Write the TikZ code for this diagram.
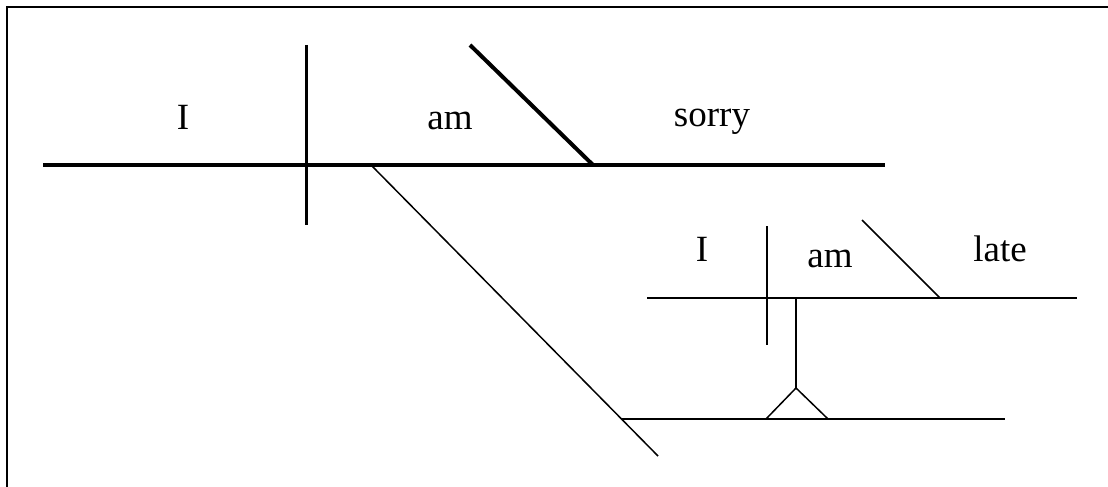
\documentclass[tikz,border=0pt]{standalone}
\usepackage{fontspec}
\setmainfont{Liberation Serif}

\begin{document}
\begin{tikzpicture}[
    x=1pt, y=-1pt,
    word/.style={inner sep=0pt, anchor=base, font=\fontsize{37}{40}\selectfont},
    heavy/.style={line width=4pt},
    divider/.style={line width=3pt},
    light/.style={line width=1.5pt},
    frame/.style={line width=2pt},
  ]
    \useasboundingbox (0,0) rectangle (1108,487);

    % Frame
    \coordinate (fcorner) at (7,7.5);
    \coordinate (ftop) at (1108,7.5);
    \coordinate (fbottom) at (7,487);
    \draw[frame] (ftop) -- (fcorner) -- (fbottom);

    % Main clause
    \coordinate (mainL) at (43,165);
    \coordinate (mainR) at (885,165);
    \coordinate (subjT) at (306,45);
    \coordinate (subjB) at (306,225);
    \coordinate (compT) at (470,45);
    \coordinate (compB) at (593,165);
    \draw[heavy] (mainL) -- (mainR);
    \draw[divider] (subjT) -- (subjB);
    \draw[heavy] (compT) -- (compB);
    \node[word] (mainsubj) at (183,129) {I};
    \node[word] (mainverb) at (450,129) {am};
    \node[word] (maincomp) at (712,126) {sorry};

    % Slanted line and lower base
    \coordinate (slantT) at (372,166);
    \coordinate (slantB) at (658,456);
    \coordinate (lowL) at (622,419);
    \coordinate (lowR) at (1005,419);
    \draw[light] (slantT) -- (slantB);
    \draw[light] (lowL) -- (lowR);

    % Subordinate clause
    \coordinate (subL) at (647,298);
    \coordinate (subR) at (1077,298);
    \coordinate (ssubjT) at (767,226);
    \coordinate (ssubjB) at (767,345);
    \coordinate (scompT) at (862,220);
    \coordinate (scompB) at (940,298);
    \draw[light] (subL) -- (subR);
    \draw[light] (ssubjT) -- (ssubjB);
    \draw[light] (scompT) -- (scompB);
    \node[word] (subsubj) at (702,261) {I};
    \node[word] (subverb) at (830,267) {am};
    \node[word] (subcomp) at (1000,261) {late};

    % Connector
    \coordinate (connT) at (796,298);
    \coordinate (apex) at (796,388);
    \coordinate (triL) at (766,419);
    \coordinate (triR) at (828,419);
    \draw[light] (connT) -- (apex);
    \draw[light] (triL) -- (apex) -- (triR);
\end{tikzpicture}
\end{document}
